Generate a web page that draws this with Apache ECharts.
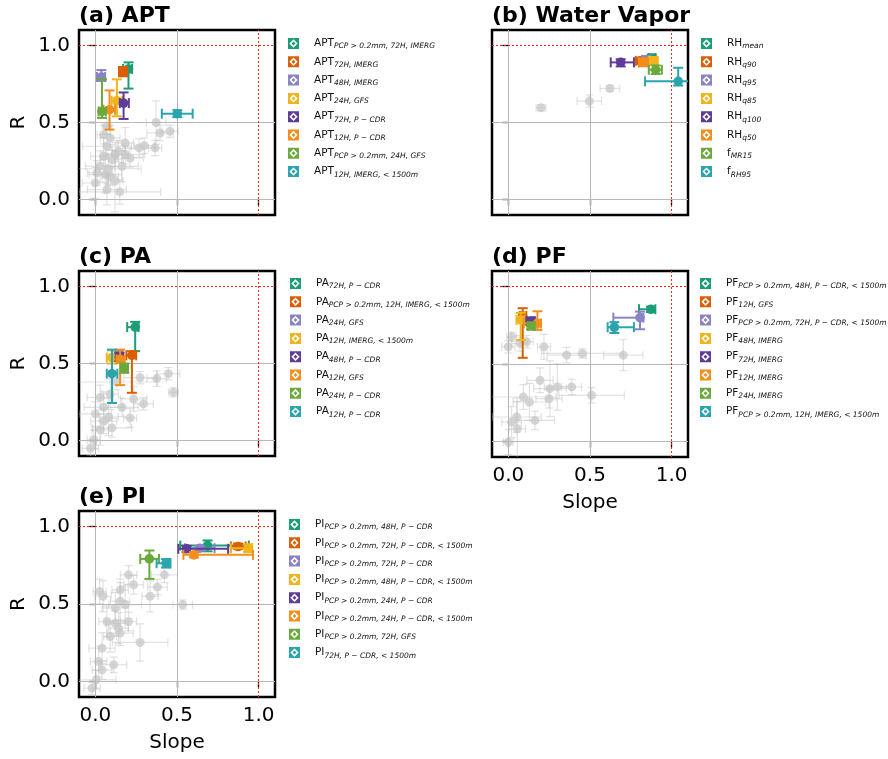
<!DOCTYPE html>
<html><head><meta charset="utf-8">
<script src="https://cdn.jsdelivr.net/npm/echarts@6/dist/echarts.min.js"></script>
<style>html,body{margin:0;padding:0;background:#fff}#c{width:888px;height:759px}</style>
</head><body><div id="c"></div>
<script>
// Colors of the 8 highlighted entries (per legend position)
const palette = ['#1b9e77','#d95f02','#8a83c4','#f1b41c','#5e3c99','#f28e1c','#6aaa3a','#2aa5ad'];

// Tick values
const tickValues = [0, 0.5, 1.0];

// ---------- (a) APT ----------
const aptLabels = [
  'APT|PCP > 0.2mm, 72H, IMERG','APT|72H, IMERG','APT|48H, IMERG','APT|24H, GFS',
  'APT|72H, P − CDR','APT|12H, P − CDR','APT|PCP > 0.2mm, 24H, GFS','APT|12H, IMERG, < 1500m'];
// [slope, R, slopeLo, slopeHi, RLo, RHi]
const aptHighlight = [
  [0.203,0.847,0.17,0.225,0.72,0.89],
  [0.169,0.827,0.145,0.195,0.80,0.86],
  [0.037,0.795,0.01,0.06,0.77,0.84],
  [0.132,0.641,0.10,0.165,0.54,0.78],
  [0.173,0.626,0.15,0.205,0.523,0.695],
  [0.087,0.583,0.05,0.12,0.454,0.708],
  [0.041,0.572,0.02,0.065,0.53,0.78],
  [0.502,0.557,0.407,0.596,0.535,0.58]];
// [slope, R, slopeErr, RErr]
const aptGray = [
  [0.372,0.50,0.06,0.14],[0.396,0.432,0.08,0.05],[0.457,0.443,0.05,0.04],[0.299,0.35,0.06,0.05],
  [0.268,0.335,0.10,0.06],[0.366,0.335,0.04,0.05],[0.183,0.367,0.05,0.10],[0.183,0.292,0.12,0.06],
  [0.163,0.216,0.10,0.10],[0.122,0.292,0.08,0.08],[0.071,0.346,0.15,0.08],[0.051,0.281,0.08,0.12],
  [0.102,0.259,0.07,0.10],[0.030,0.216,0.09,0.10],[0.010,0.173,0.06,0.08],[0.061,0.162,0.10,0.12],
  [0.091,0.151,0.05,0.06],[0.000,0.108,0.08,0.10],[0.071,0.065,0.12,0.10],[0.051,0.421,0.04,0.06],
  [0.071,0.475,0.03,0.05],[0.091,0.40,0.06,0.08],[0.213,0.27,0.08,0.06],[0.142,0.313,0.04,0.07],
  [0.08,0.20,0.20,0.10],[0.12,0.12,0.05,0.20],[0.15,0.05,0.25,0.08]];

// ---------- (b) Water Vapor ----------
const wvLabels = ['RH|mean','RH|q90','RH|q95','RH|q85','RH|q100','RH|q50','f|MR15','f|RH95'];
const wvHighlight = [
  [0.878,0.918,0.86,0.90,0.895,0.94],
  [0.806,0.90,0.78,0.83,0.88,0.92],
  [0.847,0.907,0.82,0.87,0.885,0.93],
  [0.888,0.90,0.86,0.915,0.875,0.925],
  [0.688,0.89,0.627,0.769,0.864,0.91],
  [0.827,0.89,0.80,0.855,0.865,0.915],
  [0.902,0.842,0.86,0.94,0.815,0.87],
  [1.04,0.767,0.837,1.15,0.74,0.855]];
const wvGray = [[0.20,0.596,0.03,0.02],[0.496,0.639,0.075,0.04],[0.622,0.721,0.06,0.02]];

// ---------- (c) PA ----------
const paLabels = [
  'PA|72H, P − CDR','PA|PCP > 0.2mm, 12H, IMERG, < 1500m','PA|24H, GFS','PA|12H, IMERG, < 1500m',
  'PA|48H, P − CDR','PA|12H, GFS','PA|24H, P − CDR','PA|12H, P − CDR'];
const paHighlight = [
  [0.244,0.736,0.195,0.265,0.58,0.77],
  [0.224,0.553,0.19,0.25,0.31,0.58],
  [0.142,0.553,0.12,0.165,0.52,0.58],
  [0.102,0.538,0.07,0.135,0.50,0.585],
  [0.148,0.542,0.125,0.17,0.515,0.57],
  [0.152,0.527,0.13,0.18,0.36,0.59],
  [0.177,0.467,0.155,0.20,0.44,0.50],
  [0.102,0.434,0.07,0.135,0.244,0.59]];
const paGray = [
  [0.447,0.434,0.07,0.04],[0.376,0.402,0.06,0.05],[0.274,0.408,0.10,0.04],[0.478,0.313,0.03,0.03],
  [0.295,0.238,0.06,0.04],[0.234,0.27,0.08,0.08],[0.163,0.216,0.10,0.06],[0.091,0.302,0.05,0.10],
  [0.030,0.28,0.08,0.08],[0.051,0.216,0.12,0.10],[0.081,0.153,0.06,0.12],[0.000,0.173,0.10,0.08],
  [0.030,0.071,0.05,0.10],[-0.03,-0.05,0.05,0.05],[-0.01,0.006,0.04,0.06],[0.213,0.147,0.04,0.06],
  [0.102,0.082,0.12,0.06],[0.051,0.125,0.08,0.08],[0.13,0.38,0.25,0.05]];

// ---------- (d) PF ----------
const pfLabels = [
  'PF|PCP > 0.2mm, 48H, P − CDR, < 1500m','PF|12H, GFS','PF|PCP > 0.2mm, 72H, P − CDR, < 1500m',
  'PF|48H, IMERG','PF|72H, IMERG','PF|12H, IMERG','PF|24H, IMERG','PF|PCP > 0.2mm, 12H, IMERG, < 1500m'];
const pfHighlight = [
  [0.873,0.853,0.80,0.90,0.835,0.87],
  [0.088,0.81,0.07,0.11,0.54,0.86],
  [0.806,0.799,0.643,0.827,0.724,0.838],
  [0.076,0.784,0.05,0.10,0.655,0.83],
  [0.139,0.777,0.11,0.16,0.75,0.80],
  [0.178,0.762,0.095,0.20,0.72,0.84],
  [0.139,0.745,0.12,0.16,0.725,0.765],
  [0.649,0.737,0.608,0.769,0.70,0.77]];
const pfGray = [
  [0.000,0.611,0.04,0.04],[0.020,0.676,0.03,0.03],[0.071,0.633,0.05,0.05],[0.112,0.644,0.04,0.04],
  [0.218,0.611,0.04,0.08],[0.357,0.557,0.12,0.05],[0.453,0.568,0.25,0.03],[0.704,0.557,0.12,0.10],
  [0.194,0.395,0.08,0.08],[0.255,0.341,0.10,0.18],[0.300,0.352,0.08,0.15],[0.388,0.352,0.06,0.05],
  [0.510,0.298,0.20,0.05],[0.249,0.276,0.08,0.06],[0.129,0.255,0.10,0.12],[0.092,0.287,0.20,0.08],
  [0.163,0.136,0.12,0.06],[0.051,0.158,0.15,0.10],[0.055,0.082,0.05,0.20],[0.000,-0.004,0.03,0.08],
  [0.020,0.125,0.06,0.10]];

// ---------- (e) PI ----------
const piLabels = [
  'PI|PCP > 0.2mm, 48H, P − CDR','PI|PCP > 0.2mm, 72H, P − CDR, < 1500m','PI|PCP > 0.2mm, 72H, P − CDR',
  'PI|PCP > 0.2mm, 48H, P − CDR, < 1500m','PI|PCP > 0.2mm, 24H, P − CDR','PI|PCP > 0.2mm, 24H, P − CDR, < 1500m',
  'PI|PCP > 0.2mm, 72H, GFS','PI|72H, P − CDR, < 1500m'];
const piHighlight = [
  [0.687,0.877,0.52,0.94,0.84,0.91],
  [0.874,0.871,0.83,0.92,0.855,0.89],
  [0.640,0.860,0.55,0.73,0.845,0.875],
  [0.935,0.860,0.83,0.96,0.835,0.885],
  [0.559,0.856,0.508,0.813,0.835,0.875],
  [0.604,0.817,0.539,0.965,0.80,0.835],
  [0.331,0.791,0.275,0.39,0.662,0.845],
  [0.433,0.763,0.375,0.46,0.735,0.79]];
const piGray = [
  [0.203,0.688,0.05,0.06],[0.234,0.624,0.06,0.06],[0.152,0.591,0.05,0.07],[0.380,0.609,0.06,0.05],
  [0.423,0.688,0.08,0.05],[0.335,0.550,0.05,0.10],[0.026,0.581,0.04,0.08],[0.047,0.550,0.05,0.10],
  [0.535,0.496,0.06,0.03],[0.183,0.496,0.10,0.12],[0.122,0.475,0.08,0.10],[0.152,0.518,0.06,0.12],
  [0.071,0.387,0.05,0.10],[0.122,0.376,0.06,0.08],[0.203,0.387,0.05,0.06],[0.142,0.344,0.06,0.10],
  [0.091,0.290,0.04,0.10],[0.152,0.312,0.08,0.08],[0.274,0.252,0.17,0.12],[0.041,0.215,0.08,0.10],
  [0.020,0.129,0.05,0.10],[0.041,0.075,0.06,0.06],[0.112,0.108,0.08,0.05],[-0.020,-0.043,0.05,0.04],
  [0.006,0.011,0.12,0.06]];

const panels = [
  {title:'(a) APT', labels:aptLabels, hl:aptHighlight, gray:aptGray, grid:{left:79,top:30,width:196,height:185}, legend:{left:288,top:38}, ylab:true, xlab:false},
  {title:'(b) Water Vapor', labels:wvLabels, hl:wvHighlight, gray:wvGray, grid:{left:492,top:30,width:196,height:185}, legend:{left:701,top:38}, ylab:false, xlab:false},
  {title:'(c) PA', labels:paLabels, hl:paHighlight, gray:paGray, grid:{left:79,top:271,width:196,height:185}, legend:{left:290,top:278}, ylab:true, xlab:false},
  {title:'(d) PF', labels:pfLabels, hl:pfHighlight, gray:pfGray, grid:{left:492,top:271,width:196,height:186}, legend:{left:700,top:278}, ylab:false, xlab:true},
  {title:'(e) PI', labels:piLabels, hl:piHighlight, gray:piGray, grid:{left:79,top:511,width:196,height:186}, legend:{left:289,top:519}, ylab:true, xlab:true}
];

const FONT = 'DejaVu Sans';
const iconPath = 'path://M0,0L10,0L10,10L0,10Z M5,1.2L1.2,5L5,8.8L8.8,5Z M5,3.2L6.8,5L5,6.8L3.2,5Z';

function line(x1,y1,x2,y2,style){return {type:'line',shape:{x1,y1,x2,y2},style};}

function hlRender(params, api){
  const x=api.value(0), y=api.value(1);
  const c=api.coord([x,y]);
  const xl=api.coord([api.value(2),y])[0], xh=api.coord([api.value(3),y])[0];
  const yl=api.coord([x,api.value(4)])[1], yh=api.coord([x,api.value(5)])[1];
  const color=api.visual('color');
  const st={stroke:color,lineWidth:2};
  const cap=5;
  return {type:'group',children:[
    line(xl,c[1],xh,c[1],st), line(c[0],yl,c[0],yh,st),
    line(xl,c[1]-cap,xl,c[1]+cap,st), line(xh,c[1]-cap,xh,c[1]+cap,st),
    line(c[0]-cap,yl,c[0]+cap,yl,st), line(c[0]-cap,yh,c[0]+cap,yh,st),
    {type:'circle',shape:{cx:c[0],cy:c[1],r:4.8},style:{fill:color}}
  ]};
}
function grayRender(params, api){
  const x=api.value(0), y=api.value(1), ex=api.value(2), ey=api.value(3);
  const c=api.coord([x,y]);
  const xl=api.coord([x-ex,y])[0], xh=api.coord([x+ex,y])[0];
  const yl=api.coord([x,y-ey])[1], yh=api.coord([x,y+ey])[1];
  const st={stroke:'rgba(190,190,190,0.45)',lineWidth:1.2};
  const cap=4;
  return {type:'group',children:[
    line(xl,c[1],xh,c[1],st), line(c[0],yl,c[0],yh,st),
    line(xl,c[1]-cap,xl,c[1]+cap,st), line(xh,c[1]-cap,xh,c[1]+cap,st),
    line(c[0]-cap,yl,c[0]+cap,yl,st), line(c[0]-cap,yh,c[0]+cap,yh,st),
    {type:'circle',shape:{cx:c[0],cy:c[1],r:4.5},style:{fill:'rgba(200,200,200,0.75)'}}
  ]};
}

const option = {animation:false, backgroundColor:'#fff', title:[], grid:[], xAxis:[], yAxis:[], legend:[], series:[]};
panels.forEach((p,i)=>{
  option.title.push({text:p.title,left:p.grid.left,top:p.grid.top-25,padding:0,
    textStyle:{fontFamily:FONT,fontSize:22,fontWeight:'bold',color:'#000'}});
  option.grid.push(Object.assign({show:true,borderColor:'#000',borderWidth:2.5,backgroundColor:'transparent',containLabel:false},p.grid));
  option.xAxis.push({type:'value',gridIndex:i,min:-0.1,max:1.1,
    name:p.xlab?'Slope':'',nameLocation:'middle',nameGap:36,
    nameTextStyle:{fontFamily:FONT,fontSize:20,color:'#000'},
    axisLine:{show:false},splitLine:{show:false},
    axisTick:{show:true,customValues:tickValues,length:6,lineStyle:{color:'#000',width:1.3}},
    axisLabel:{show:p.xlab,customValues:tickValues,margin:9,fontFamily:FONT,fontSize:20,color:'#000',formatter:v=>v.toFixed(1)}});
  option.yAxis.push({type:'value',gridIndex:i,min:-0.1,max:1.1,
    name:p.ylab?'R':'',nameLocation:'middle',nameGap:50,nameRotate:90,
    nameTextStyle:{fontFamily:FONT,fontSize:20,color:'#000'},
    axisLine:{show:false},splitLine:{show:false},
    axisTick:{show:true,customValues:tickValues,length:6,lineStyle:{color:'#000',width:1.3}},
    axisLabel:{show:p.ylab,customValues:tickValues,margin:9,fontFamily:FONT,fontSize:20,color:'#000',formatter:v=>v.toFixed(1)}});
  // grid lines + reference lines
  const gl={color:'#b8b8b8',width:1,type:'solid'};
  const rl={color:'#ff2020',width:1,type:[2,2]};
  option.series.push({type:'scatter',xAxisIndex:i,yAxisIndex:i,data:[],z:1,silent:true,
    markLine:{silent:true,symbol:['none','none'],label:{show:false},animation:false,
      data:[{xAxis:0,lineStyle:gl},{xAxis:0.5,lineStyle:gl},{yAxis:0,lineStyle:gl},{yAxis:0.5,lineStyle:gl}]}});
  option.series.push({type:'custom',name:'bg'+i,xAxisIndex:i,yAxisIndex:i,z:2,clip:true,silent:true,
    renderItem:grayRender,data:p.gray,encode:{x:0,y:1}});
  option.series.push({type:'scatter',xAxisIndex:i,yAxisIndex:i,data:[],z:3,silent:true,
    markLine:{silent:true,symbol:['none','none'],label:{show:false},animation:false,
      data:[{xAxis:1,lineStyle:rl},{yAxis:1,lineStyle:rl}]}});
  p.labels.forEach((lab,k)=>{
    option.series.push({type:'custom',name:lab,xAxisIndex:i,yAxisIndex:i,z:4+k,clip:true,
      itemStyle:{color:palette[k]},renderItem:hlRender,data:[p.hl[k]],encode:{x:0,y:1}});
  });
  option.legend.push({orient:'vertical',left:p.legend.left,top:p.legend.top,padding:0,itemGap:5.8,
    itemWidth:11,itemHeight:11,selectedMode:false,
    data:p.labels.map(n=>({name:n,icon:iconPath})),
    formatter:n=>{const s=n.split('|');return '{m|'+s[0]+'}{s|'+s[1]+'}';},
    textStyle:{padding:[0,0,0,10],rich:{
      m:{fontFamily:FONT,fontSize:10.5,color:'#111',lineHeight:14},
      s:{fontFamily:FONT,fontSize:7.5,fontStyle:'italic',color:'#111',lineHeight:8,verticalAlign:'bottom'}}}});
});
const chart = echarts.init(document.getElementById('c'),null,{renderer:'canvas'});
chart.setOption(option);
</script></body></html>
